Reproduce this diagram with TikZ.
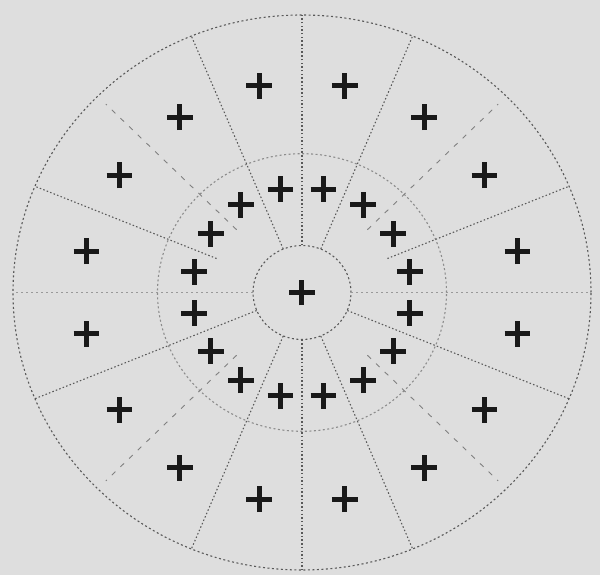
\documentclass[tikz,border=0pt]{standalone}
\usepackage{tikz}
\usetikzlibrary{shapes.misc}
\definecolor{scan}{RGB}{222,222,222}
\tikzset{
    fixpt/.style={draw=black!90,cross out,rotate=45,minimum size=13.2pt,inner sep=0pt,line width=5pt},
    ring/.style={draw=black!65,line width=1.1pt,dash pattern=on 2pt off 2.5pt},
    spoke/.style={draw=black!65,line width=1.1pt,dash pattern=on 1.5pt off 2.2pt},
    flatspoke/.style={draw=black!40,line width=0.8pt,dash pattern=on 2pt off 3pt},
    partspoke/.style={draw=black!50,line width=0.9pt,dash pattern=on 5pt off 7pt}
}
\begin{document}
\begin{tikzpicture}[x=289pt,y=277.5pt]
  \fill[scan] (-302pt,-282.5pt) rectangle (298pt,292.5pt);
  \useasboundingbox (-302pt,-282.5pt) rectangle (298pt,292.5pt);
  % rings
  \draw[ring] (0,0) ellipse [x radius=289pt,y radius=277.5pt];
  \draw[ring,draw=black!45] (0,0) ellipse [x radius=144.5pt,y radius=138.8pt];
  \draw[ring] (0,0) ellipse [x radius=49pt,y radius=47pt];
  % spokes
  \foreach \a in {67.5,90,112.5,202.5,247.5,270,292.5,337.5}
    \draw[spoke] (\a:0.17) -- (\a:1);
  \foreach \a in {0,180}
    \draw[flatspoke] (\a:0.17) -- (\a:1);
  \foreach \a in {22.5,157.5}
    \draw[spoke] (\a:0.32) -- (\a:1);
  \foreach \a in {45,135,225,315}
    \draw[partspoke] (\a:0.32) -- (\a:0.96);
  % test points
  \node[fixpt] (c) at (0,0) {};
  \foreach \i in {0,...,15}{
    \node[fixpt] (m\i) at ({11.25+22.5*\i}:0.38) {};
    \node[fixpt] (o\i) at ({11.25+22.5*\i}:0.76) {};
  }
\end{tikzpicture}
\end{document}
